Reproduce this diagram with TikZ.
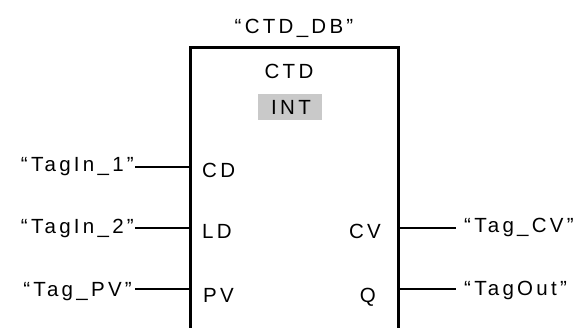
\documentclass[tikz,border=0pt]{standalone}
\usepackage{fontspec}
\setmainfont{Liberation Sans}[LetterSpace=16]
\begin{document}
\begin{tikzpicture}[x=1pt,y=-1pt,
  lbl/.style={inner sep=0pt,font=\fontsize{20.5}{20.5}\selectfont},
  wire/.style={line width=1.2pt},
  frame/.style={line width=3pt}]
\useasboundingbox (0,0) rectangle (581,327);
% block frame (open at bottom)
\coordinate (bl) at (190,330);
\coordinate (tl) at (190,47);
\coordinate (tr) at (398,47);
\coordinate (br) at (398,330);
\draw[frame] (bl) -- (tl) -- (tr) -- (br);
% instance name and type
\node[lbl,anchor=base] (db) at (294,33) {“CTD\_DB”};
\node[lbl,anchor=base] (ctd) at (289,78) {CTD};
\node[fill=black!21,minimum width=64pt,minimum height=26pt,inner sep=0pt] (intbox) at (290,107) {};
\node[lbl,anchor=base] (int) at (291,114) {INT};
% pins
\coordinate (pcd) at (190,167);
\coordinate (pld) at (190,228);
\coordinate (ppv) at (190,289);
\coordinate (pcv) at (398,228);
\coordinate (pq) at (398,289);
\node[lbl,anchor=base west] (cd) at (202,177) {CD};
\node[lbl,anchor=base west] (ld) at (202,238) {LD};
\node[lbl,anchor=base west] (pv) at (203,302) {PV};
\node[lbl,anchor=base east] (cv) at (381,238) {CV};
\node[lbl,anchor=base east] (q) at (376,302) {Q};
% operands
\node[lbl,anchor=base east] (in1) at (134,171) {“TagIn\_1”};
\node[lbl,anchor=base east] (in2) at (134,233) {“TagIn\_2”};
\node[lbl,anchor=base east] (tpv) at (132,296) {“Tag\_PV”};
\node[lbl,anchor=base west] (tcv) at (464,232) {“Tag\_CV”};
\node[lbl,anchor=base west] (tout) at (464,295) {“TagOut”};
\coordinate (w1) at (135,167);
\coordinate (w2) at (135,228);
\coordinate (w3) at (135,289);
\coordinate (w4) at (456,228);
\coordinate (w5) at (456,289);
\draw[wire] (w1) -- (pcd);
\draw[wire] (w2) -- (pld);
\draw[wire] (w3) -- (ppv);
\draw[wire] (pcv) -- (w4);
\draw[wire] (pq) -- (w5);
\end{tikzpicture}
\end{document}
